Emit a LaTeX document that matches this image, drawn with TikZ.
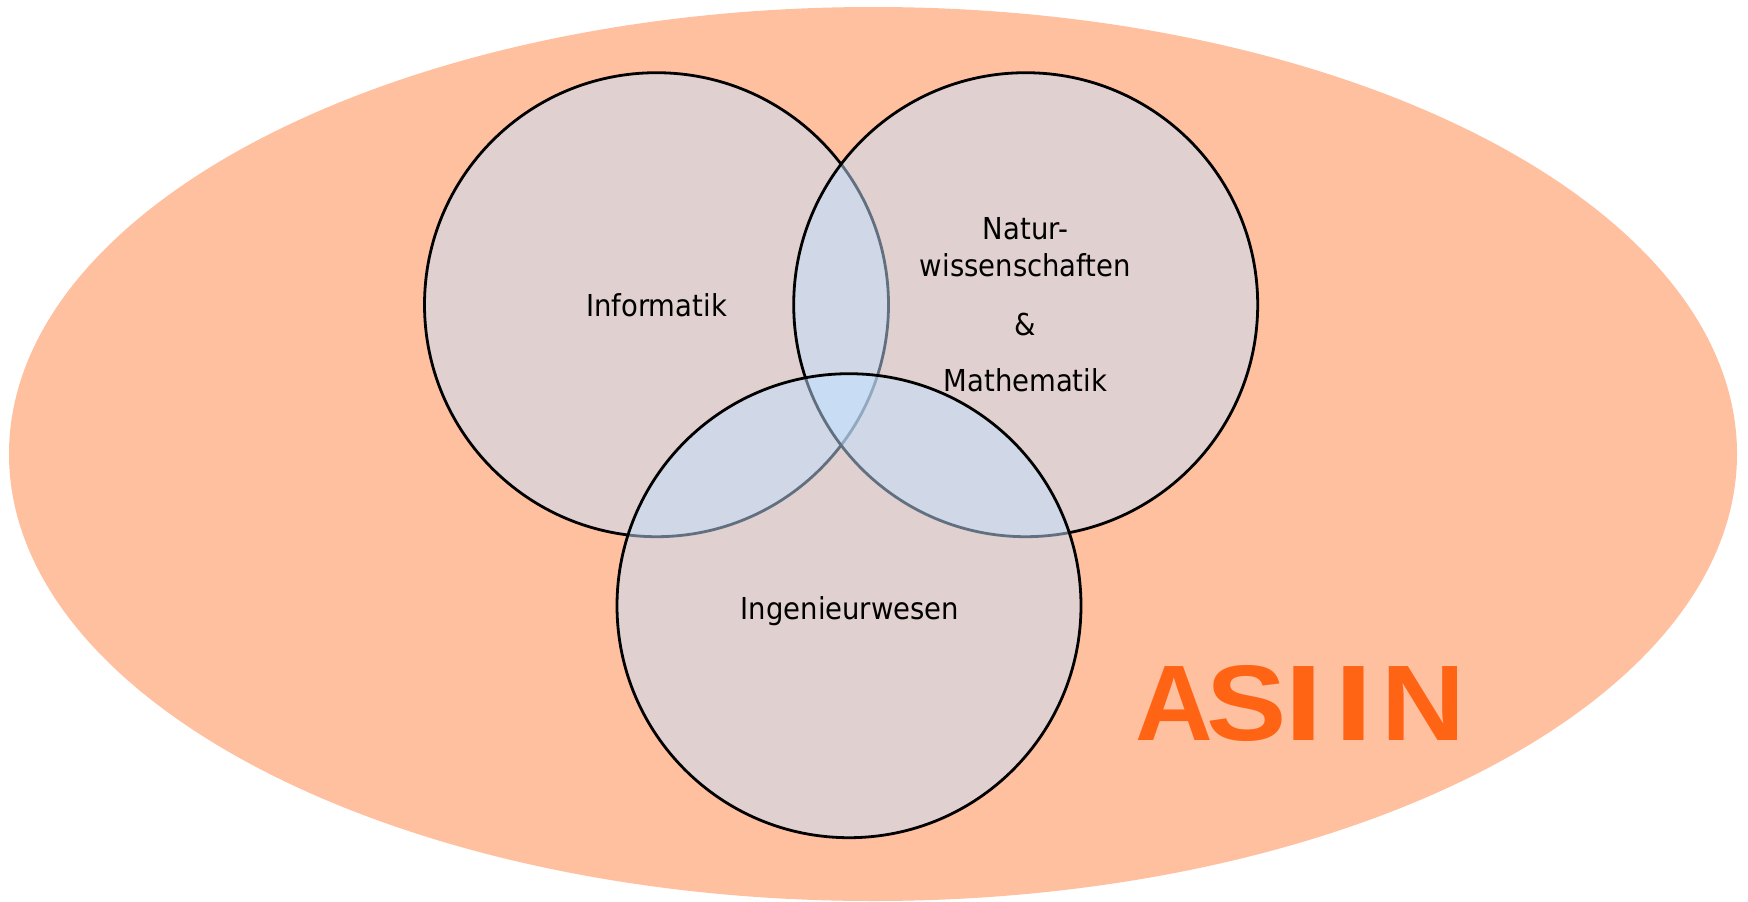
\documentclass[tikz,border=0pt]{standalone}
\usepackage{fontspec}
\usepackage{graphicx}
\setmainfont{DejaVu Sans}[FakeStretch=0.91]
\newfontfamily\logofont{Liberation Sans}
\usetikzlibrary{shapes.geometric}
\definecolor{asiinbg}{RGB}{255,192,160}
\definecolor{setblue}{RGB}{194,224,255}
\definecolor{asiinorange}{RGB}{255,100,20}
\newcommand{\wideletter}[2]{\scalebox{#1}[1]{#2}}
\tikzset{
  setcircle/.style={circle, draw=black, line width=2.8pt, fill=setblue, fill opacity=0.5, draw opacity=1, minimum size=464pt, inner sep=0pt, outer sep=0pt},
  setlabel/.style={font=\fontsize{30.2}{37.7}\selectfont, text=black, inner sep=0pt, align=center},
}
\begin{document}
\begin{tikzpicture}[x=1pt,y=-1pt]
\useasboundingbox (0,0) rectangle (1748,902);
\fill[white] (0,0) rectangle (1748,902);
\node[ellipse, fill=asiinbg, minimum width=1728pt, minimum height=894pt, inner sep=0pt] (asiin) at (873,454) {};
\node[setcircle] (inf) at (656.5,304.7) {};
\node[setcircle] (nat) at (1025.7,304.7) {};
\node[setcircle] (ing) at (849,605.7) {};
\node[setlabel, anchor=base] (inflabel) at (656.5,316) {Informatik};
\node[setlabel, anchor=base] (ninglabel) at (850,619) {Ingenieurwesen};
\node[setlabel, anchor=base] (natlabel1) at (1025.5,239) {Natur-};
\node[setlabel, anchor=base] (natlabel2) at (1025.5,276.7) {wissenschaften};
\node[setlabel, anchor=base] (natlabel3) at (1025.5,335) {\&};
\node[setlabel, anchor=base] (natlabel4) at (1025.5,391.7) {Mathematik};
\node[anchor=base west, inner sep=0pt, text=asiinorange, font=\logofont\bfseries\fontsize{107.5}{110}\selectfont] (logo) at (1139,740)
  {\makebox[70pt]{A}\makebox[74pt]{\wideletter{1.12}{S}}\makebox[41pt]{\wideletter{1.3}{I}}\makebox[60pt]{\wideletter{1.3}{I}}\makebox[79pt]{\wideletter{1.08}{N}}};
\end{tikzpicture}
\end{document}
